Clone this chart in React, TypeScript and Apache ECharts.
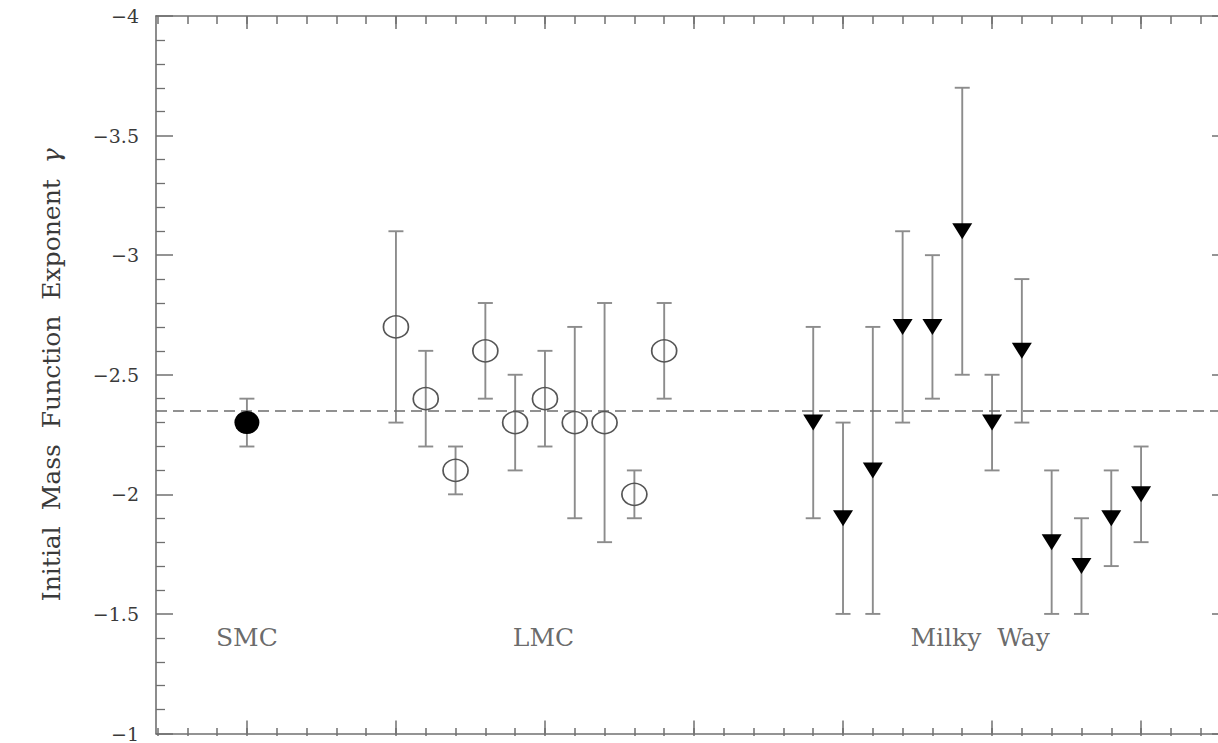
import React, { useEffect, useRef } from "react";
import * as echarts from "echarts";

// ---- data ----
const smcX = [0];
const smcY = [-2.3];
const smcLow = [-2.2];
const smcHigh = [-2.4];

const lmcX = [5, 6, 7, 8, 9, 10, 11, 12, 13, 14];
const lmcY = [-2.7, -2.4, -2.1, -2.6, -2.3, -2.4, -2.3, -2.3, -2.0, -2.6];
const lmcLow = [-2.3, -2.2, -2.0, -2.4, -2.1, -2.2, -1.9, -1.8, -1.9, -2.4];
const lmcHigh = [-3.1, -2.6, -2.2, -2.8, -2.5, -2.6, -2.7, -2.8, -2.1, -2.8];

const mwX = [19, 20, 21, 22, 23, 24, 25, 26, 27, 28, 29, 30];
const mwY = [-2.3, -1.9, -2.1, -2.7, -2.7, -3.1, -2.3, -2.6, -1.8, -1.7, -1.9, -2.0];
const mwLow = [-1.9, -1.5, -1.5, -2.3, -2.4, -2.5, -2.1, -2.3, -1.5, -1.5, -1.7, -1.8];
const mwHigh = [-2.7, -2.3, -2.7, -3.1, -3.0, -3.7, -2.5, -2.9, -2.1, -1.9, -2.1, -2.2];

const salpeterGamma = -2.35;

const groupNames = ["SMC", "LMC", "Milky  Way"];
const groupNameX = [0, 9.95, 24.6];
const groupNameY = [-1.4, -1.4, -1.4];

const xMajorTicks = [0, 5, 10, 15, 20, 25, 30];
const xMinorTicks = [-3, -2, -1, 0, 1, 2, 3, 4, 5, 6, 7, 8, 9, 10, 11, 12, 13, 14, 15, 16, 17, 18, 19, 20, 21, 22, 23, 24, 25, 26, 27, 28, 29, 30, 31, 32];

const X_MIN = -3.05;
const X_MAX = 32.95;
const Y_MIN = -4;
const Y_MAX = -1;

const AXIS_COLOR = "#707070";
const TEXT_COLOR = "#3a3a3a";
const FONT = "DejaVu Serif";

function errData(xs: number[], lo: number[], hi: number[]) {
  return xs.map((x, i) => [x, lo[i], hi[i]]);
}
function pts(xs: number[], ys: number[]) {
  return xs.map((x, i) => [x, ys[i]]);
}

const errorBarRender = (params: any, api: any) => {
  const x = api.value(0);
  const p1 = api.coord([x, api.value(1)]);
  const p2 = api.coord([x, api.value(2)]);
  const hw = 7.5;
  const style = { stroke: "#8c8c8c", lineWidth: 1.9 };
  return {
    type: "group",
    children: [
      { type: "line", shape: { x1: p1[0], y1: p1[1], x2: p2[0], y2: p2[1] }, style },
      { type: "line", shape: { x1: p1[0] - hw, y1: p1[1], x2: p1[0] + hw, y2: p1[1] }, style },
      { type: "line", shape: { x1: p2[0] - hw, y1: p2[1], x2: p2[0] + hw, y2: p2[1] }, style },
    ],
  };
};

const fmtY = (v: number) => (v < 0 ? "\u2212" : "") + String(Math.abs(v));

export default function App() {
  const ref = useRef<HTMLDivElement>(null);
  useEffect(() => {
    if (!ref.current) return;
    const chart = echarts.init(ref.current, undefined, { renderer: "svg" });
    const gridBox = { left: 156, top: 16, right: 1, bottom: 7, containLabel: false };
    const xBase = (gridIndex: number, position: string, ticks: number[], len: number, showLine: boolean) => ({
      type: "value",
      gridIndex,
      position,
      min: X_MIN,
      max: X_MAX,
      axisLine: { show: showLine, onZero: false, lineStyle: { color: AXIS_COLOR, width: 1.6 } },
      axisTick: { show: true, inside: true, length: len, customValues: ticks, lineStyle: { color: AXIS_COLOR, width: 1.5 } },
      axisLabel: { show: false },
      splitLine: { show: false },
    });
    const yBase = (position: string, withLabels: boolean) => ({
      type: "value",
      gridIndex: 0,
      position,
      inverse: true,
      min: Y_MIN,
      max: Y_MAX,
      interval: 0.5,
      axisLine: { show: true, onZero: false, lineStyle: { color: AXIS_COLOR, width: 1.6 } },
      axisTick: { show: true, inside: true, length: 17, lineStyle: { color: AXIS_COLOR, width: 1.5 } },
      minorTick: { show: true, splitNumber: 5, length: 9, lineStyle: { color: AXIS_COLOR, width: 1.3 } },
      axisLabel: {
        show: withLabels,
        formatter: fmtY,
        margin: 17,
        color: TEXT_COLOR,
        fontFamily: FONT,
        fontSize: 19,
      },
      splitLine: { show: false },
      minorSplitLine: { show: false },
      ...(withLabels
        ? {
            name: "Initial  Mass  Function  Exponent  {g|\u03b3}",
            nameLocation: "middle",
            nameRotate: 90,
            nameGap: 92,
            nameTextStyle: {
              color: TEXT_COLOR,
              fontFamily: FONT,
              fontSize: 25,
              rich: { g: { fontFamily: FONT, fontStyle: "italic", fontSize: 25, color: TEXT_COLOR } },
            },
          }
        : {}),
    });

    chart.setOption({
      animation: false,
      backgroundColor: "#ffffff",
      grid: [gridBox, { ...gridBox }],
      xAxis: [
        xBase(0, "bottom", xMajorTicks, 13, true),
        xBase(0, "top", xMajorTicks, 13, true),
        xBase(1, "bottom", xMinorTicks, 8, false),
        xBase(1, "top", xMinorTicks, 8, false),
      ],
      yAxis: [
        yBase("left", true),
        yBase("right", false),
        { type: "value", gridIndex: 1, show: false, inverse: true, min: Y_MIN, max: Y_MAX },
      ],
      series: [
        {
          type: "custom",
          name: "errors",
          xAxisIndex: 0,
          yAxisIndex: 0,
          renderItem: errorBarRender,
          encode: { x: 0, y: [1, 2] },
          data: [
            ...errData(smcX, smcLow, smcHigh),
            ...errData(lmcX, lmcLow, lmcHigh),
            ...errData(mwX, mwLow, mwHigh),
          ],
          z: 2,
          markLine: {
            silent: true,
            symbol: "none",
            label: { show: false },
            lineStyle: { type: [11, 6], color: "#6e6e6e", width: 1.5 },
            data: [{ yAxis: salpeterGamma }],
          },
        },
        {
          type: "scatter",
          name: "SMC",
          xAxisIndex: 0,
          yAxisIndex: 0,
          symbol: "circle",
          symbolSize: [25, 23],
          itemStyle: { color: "#000000", opacity: 1 },
          data: pts(smcX, smcY),
          z: 5,
        },
        {
          type: "scatter",
          name: "LMC",
          xAxisIndex: 0,
          yAxisIndex: 0,
          symbol: "circle",
          symbolSize: [25, 22],
          itemStyle: { color: "rgba(0,0,0,0)", borderColor: "#555555", borderWidth: 1.6, opacity: 1 },
          data: pts(lmcX, lmcY),
          z: 5,
        },
        {
          type: "scatter",
          name: "Milky Way",
          xAxisIndex: 0,
          yAxisIndex: 0,
          symbol: "triangle",
          symbolRotate: 180,
          symbolSize: [20, 16],
          itemStyle: { color: "#000000", opacity: 1 },
          data: pts(mwX, mwY),
          z: 5,
        },
        {
          type: "scatter",
          name: "groups",
          xAxisIndex: 0,
          yAxisIndex: 0,
          symbolSize: 1,
          itemStyle: { color: "rgba(0,0,0,0)" },
          label: {
            show: true,
            position: "inside",
            formatter: (p: any) => p.value[2],
            color: "#444444",
            fontFamily: FONT,
            fontSize: 25,
          },
          data: groupNames.map((n, i) => [groupNameX[i], groupNameY[i], n]),
          z: 6,
        },
      ],
    });
    return () => chart.dispose();
  }, []);
  return (
    <div
      ref={ref}
      style={{ position: "fixed", left: 0, top: 0, width: 1230, height: 743, background: "#fff" }}
    />
  );
}
